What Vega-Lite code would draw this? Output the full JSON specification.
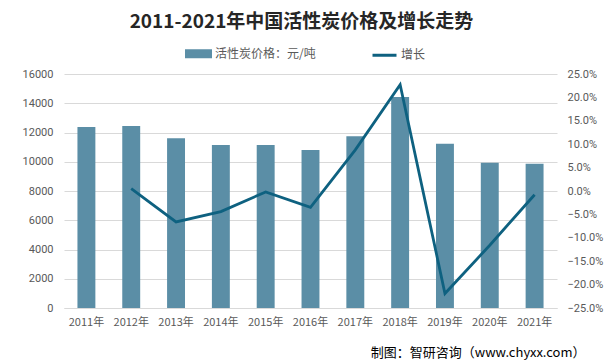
{
  "$schema": "https://vega.github.io/schema/vega-lite/v6.json",
  "autosize": "none",
  "width": 493,
  "height": 234,
  "padding": {"left": 64, "top": 74, "right": 49, "bottom": 56},
  "background": "white",
  "config": {
    "view": {"stroke": null},
    "font": "Noto Sans CJK SC",
    "axis": {"labelFont": "Noto Sans CJK SC", "titleFont": "Noto Sans CJK SC"}
  },
  "title": {
    "text": "2011-2021年中国活性炭价格及增长走势",
    "fontSize": 19,
    "fontWeight": "bold",
    "color": "#262626",
    "anchor": "middle",
    "dx": -9,
    "offset": 8,
    "font": "Noto Sans CJK SC"
  },
  "data": {
    "values": [
      {"year": "2011年", "price": 12370, "growth": null},
      {"year": "2012年", "price": 12440, "growth": 0.005},
      {"year": "2013年", "price": 11610, "growth": -0.066},
      {"year": "2014年", "price": 11140, "growth": -0.044},
      {"year": "2015年", "price": 11150, "growth": -0.002},
      {"year": "2016年", "price": 10800, "growth": -0.035},
      {"year": "2017年", "price": 11750, "growth": 0.088},
      {"year": "2018年", "price": 14430, "growth": 0.227},
      {"year": "2019年", "price": 11230, "growth": -0.219},
      {"year": "2020年", "price": 9930, "growth": -0.116},
      {"year": "2021年", "price": 9860, "growth": -0.008}
    ]
  },
  "encoding": {
    "x": {
      "field": "year",
      "type": "nominal",
      "sort": null,
      "scale": {"paddingInner": 0.6, "paddingOuter": 0.3},
      "axis": {
        "title": "制图：智研咨询（www.chyxx.com）",
        "titleFontSize": 13,
        "titleFontWeight": "normal",
        "titleColor": "#000000",
        "titleAlign": "right",
        "titleBaseline": "middle",
        "titleX": 521,
        "titleY": 44,
        "labelAngle": 0,
        "labelFontSize": 11,
        "labelColor": "#595959",
        "labelPadding": 8,
        "ticks": false,
        "domain": true,
        "domainColor": "#d9d9d9",
        "grid": false
      }
    }
  },
  "layer": [
    {
      "mark": {"type": "bar", "color": "#5b8ea6"},
      "encoding": {
        "y": {
          "field": "price",
          "type": "quantitative",
          "scale": {"domain": [0, 16000], "nice": false},
          "axis": {
            "title": null,
            "values": [0, 2000, 4000, 6000, 8000, 10000, 12000, 14000, 16000],
            "format": "d",
            "labelFont": "Roboto",
            "labelFontSize": 11,
            "labelColor": "#595959",
            "labelPadding": 11,
            "ticks": false,
            "domain": false,
            "grid": true,
            "gridColor": "#d9d9d9",
            "gridWidth": 1
          }
        },
        "color": {
          "datum": "活性炭价格：元/吨",
          "type": "nominal",
          "scale": {
            "domain": ["活性炭价格：元/吨", "增长"],
            "range": ["#5b8ea6", "#0e6180"]
          },
          "legend": {
            "title": null,
            "orient": "none",
            "direction": "horizontal",
            "legendX": 121,
            "legendY": -34,
            "labelFontSize": 12,
            "labelColor": "#595959",
            "labelLimit": 300,
            "columnPadding": 50,
            "labelOffset": 3,
            "symbolSize": 576,
            "encode": {
              "symbols": {
                "update": {
                  "shape": {"signal": "datum.value === '增长' ? 'M-1,0H1' : 'M-1,-0.25H1V0.25H-1Z'"},
                  "fill": {"signal": "datum.value === '增长' ? 'transparent' : '#5b8ea6'"},
                  "stroke": {"signal": "datum.value === '增长' ? '#0e6180' : 'transparent'"},
                  "strokeWidth": {"value": 3},
                  "opacity": {"value": 1}
                }
              }
            }
          }
        }
      }
    },
    {
      "transform": [{"filter": "datum.growth != null"}],
      "mark": {"type": "line", "strokeWidth": 2.8, "color": "#0e6180"},
      "encoding": {
        "y": {
          "field": "growth",
          "type": "quantitative",
          "scale": {"domain": [-0.25, 0.25], "nice": false},
          "axis": {
            "title": null,
            "orient": "right",
            "values": [-0.25, -0.2, -0.15, -0.1, -0.05, 0, 0.05, 0.1, 0.15, 0.2, 0.25],
            "format": ".1%",
            "labelFont": "Roboto",
            "labelFontSize": 11,
            "labelColor": "#595959",
            "labelPadding": 10,
            "ticks": false,
            "domain": false,
            "grid": false
          }
        },
        "color": {"datum": "增长", "type": "nominal"}
      }
    }
  ],
  "resolve": {"scale": {"y": "independent"}}
}
